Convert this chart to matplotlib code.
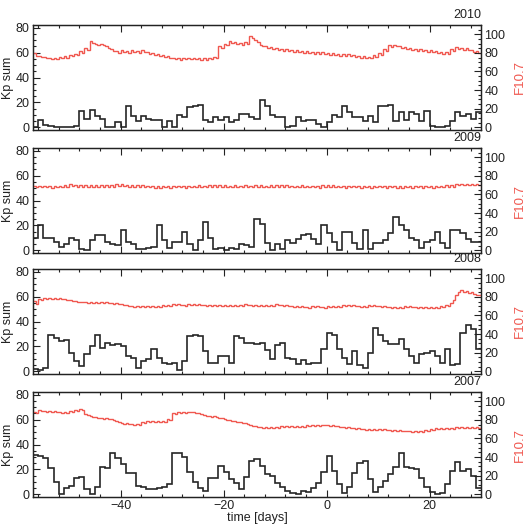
"""
Kp sum (preto) e F10.7 (vermelho) em torno do dia 0, um painel por ano.
Gera out.png com 531x524 px.
"""

import numpy as np
import matplotlib
matplotlib.use("Agg")  # sem janela
import matplotlib.pyplot as plt
from matplotlib.ticker import MultipleLocator

plt.rcParams["font.family"] = ["Liberation Sans", "DejaVu Sans"]

# ── Dados ────────────────────────────────────────────────────────────────────

anos = ["2010", "2009", "2008", "2007"]
dia_ini, dia_fim = -57, 30          # Kp: um valor por dia; F10.7: dois por dia

kp_2010 = [0, 6, 2, 1, 0, 0, 0, 0, 1, 13, 7, 14, 9, 7, 0, 0, 4, 0, 17, 9,
           5, 9, 7, 6, 6, 0, 5, 0, 10, 8, 16, 17, 18, 6, 4, 8, 6, 8, 4, 6,
           11, 11, 8, 7, 22, 17, 10, 8, 8, 0, 1, 8, 5, 6, 6, 3, 0, 4, 10, 8,
           17, 12, 8, 8, 5, 9, 4, 17, 17, 18, 5, 12, 6, 12, 11, 5, 13, 1, 0, 0,
           1, 5, 12, 9, 11, 7, 12]
kp_2009 = [10, 20, 10, 10, 7, 3, 5, 10, 8, 1, 0, 8, 12, 12, 7, 5, 4, 16, 7, 5,
           1, 1, 2, 3, 20, 8, 2, 7, 7, 15, 5, 0, 8, 23, 10, 1, 2, 0, 2, 1,
           5, 4, 3, 25, 21, 6, 0, 5, 1, 8, 6, 9, 12, 13, 9, 5, 20, 14, 7, 0,
           15, 15, 6, 1, 16, 1, 6, 6, 8, 14, 27, 20, 16, 10, 8, 2, 7, 8, 15, 6,
           2, 16, 16, 14, 9, 7, 7]
kp_2008 = [2, 1, 3, 29, 27, 24, 25, 15, 8, 4, 14, 20, 29, 19, 23, 21, 22, 20, 12, 11,
           3, 8, 10, 18, 11, 7, 6, 7, 1, 8, 28, 29, 28, 16, 7, 7, 12, 12, 7, 28,
           27, 23, 23, 22, 23, 17, 10, 21, 23, 11, 10, 6, 9, 6, 7, 7, 18, 31, 29, 18,
           11, 6, 16, 5, 3, 15, 35, 29, 24, 22, 22, 26, 18, 12, 7, 14, 15, 16, 12, 7,
           18, 5, 6, 31, 37, 34, 18]
kp_2007 = [32, 31, 29, 21, 10, 0, 5, 7, 13, 14, 4, 0, 6, 22, 21, 33, 29, 24, 17, 17,
           7, 6, 4, 4, 5, 6, 8, 33, 33, 30, 18, 10, 5, 3, 13, 13, 23, 18, 12, 9,
           4, 14, 27, 28, 23, 16, 15, 9, 6, 3, 1, 0, 3, 2, 5, 9, 18, 31, 19, 8,
           1, 6, 17, 25, 27, 12, 2, 6, 11, 16, 22, 33, 22, 21, 20, 13, 6, 2, 0, 1,
           8, 19, 26, 19, 20, 15, 5]

f107_2010 = [80, 77, 77, 75.5, 76, 74.5, 74.5, 73, 75, 73.5,
             76, 74.5, 76.5, 75, 78, 76.5, 79, 77.5, 82, 80,
             85, 83, 93, 91, 90, 88, 90, 88, 87, 85,
             84, 82, 82, 80, 83, 81, 82, 80, 83, 81,
             82, 80, 83, 81, 81, 79, 80, 78, 79, 77,
             78, 76, 77, 75, 75, 73, 74, 72, 75, 73,
             75, 73, 75, 73, 74.5, 72.5, 74.5, 72.5, 75, 73,
             76, 74, 87, 85, 90, 88, 93, 91, 92, 90,
             91, 89, 92, 90, 98, 96, 94, 92, 89, 87,
             87, 85, 86, 84, 85, 83, 84, 82, 84, 82,
             83, 81, 83, 81, 82, 80, 82, 80, 81, 79,
             81, 79, 81, 79, 80, 78, 80, 78, 79, 77,
             79, 77, 79, 77, 78, 76, 77, 75, 77, 75,
             76, 74, 78, 76, 80, 78, 84, 82, 88, 86,
             89, 87, 87, 85, 86, 84, 85, 83, 84, 82,
             84, 82, 83, 81, 83, 81, 82, 80, 81, 79,
             81, 79, 84, 82, 86, 84, 85, 83, 85, 83,
             83, 81, 82, 80]
f107_2009 = [69.5, 67.5, 69.5, 67.5, 69.5, 67.5, 69, 67, 69.5, 67.5,
             69.5, 67.5, 70, 68, 71, 69, 70.5, 68.5, 70, 68,
             70, 68, 70.5, 68.5, 70, 68, 70.5, 68.5, 70, 68,
             70.5, 68.5, 71, 69, 71, 69, 70.5, 68.5, 70.5, 68.5,
             70, 68, 70, 68, 69.5, 67.5, 69.5, 67, 69, 67,
             69.5, 67.5, 69, 67, 69.5, 67.5, 69.5, 67.5, 69, 67,
             69.5, 67.5, 69.5, 67.5, 70, 68, 69.5, 67.5, 70, 68,
             70, 68, 70.5, 68.5, 70, 68, 69.5, 67.5, 70, 68,
             69.5, 67.5, 70, 68, 69.5, 67.5, 70, 68, 70, 68,
             69.5, 67.5, 70, 68, 70.5, 68.5, 70, 68, 70, 68,
             69.5, 67.5, 69.5, 67.5, 70, 68, 69.5, 67.5, 69.5, 67.5,
             69, 67, 70, 68, 70, 68, 70, 68, 69.5, 67.5,
             69, 67, 69.5, 67.5, 69.5, 67.5, 69, 67, 69.5, 67.5,
             69, 67, 69.5, 67.5, 69.5, 67.5, 69, 67, 69.5, 67.5,
             69, 67, 69, 66.5, 69.5, 67.5, 69, 67, 69.5, 67.5,
             69, 67, 69.5, 67.5, 69, 67, 69.5, 67.5, 69.5, 67.5,
             70, 68, 70, 68, 71, 70, 71.5, 70.5, 71, 70,
             71, 70, 71, 70]
f107_2008 = [76, 72.5, 78, 77, 78.5, 77.5, 78.5, 77.5, 79, 78,
             78.5, 77.5, 78, 77, 77, 76, 75.5, 74.5, 75, 74,
             74.5, 73.5, 74.5, 73.5, 74.5, 73.5, 74.5, 73.5, 74, 73,
             73.5, 72.5, 73, 72, 72, 71, 71, 70, 70.5, 69.5,
             70.5, 69.5, 70.5, 69.5, 70.5, 69.5, 70.5, 69.5, 70.5, 69.5,
             71, 70, 71, 70, 72, 71, 72, 71, 71.5, 70.5,
             72, 71, 72, 71, 72, 71, 71.5, 70.5, 71, 70,
             71, 70, 71, 70, 71, 70, 71.5, 70.5, 71.5, 70.5,
             71.5, 70.5, 72, 71, 71.5, 70.5, 71, 70, 71, 70,
             71, 70, 71.5, 70.5, 72, 71, 71.5, 70.5, 71, 70,
             70.5, 69.5, 70, 69, 70, 69, 69.5, 68.5, 70, 69,
             70, 69, 69.5, 68.5, 70, 69, 70, 69, 70.5, 69.5,
             71, 70, 71, 70, 71, 70, 70.5, 69.5, 70.5, 69.5,
             71, 70, 71, 70, 70.5, 69.5, 70, 69, 69.5, 68.5,
             69, 67.5, 69.5, 68.5, 70, 69, 70, 69, 69.5, 68.5,
             69, 68, 69.5, 68.5, 69.5, 68.5, 69.5, 68.5, 70, 69,
             71, 70.5, 73, 77, 82, 85, 87, 85, 86, 84.5,
             85, 83.5, 82.5, 82]
f107_2007 = [88.5, 87.5, 90.5, 89.5, 90, 89, 89.5, 88.5, 89.5, 88.5,
             88.5, 87.5, 88, 87, 89.5, 88.5, 91, 90, 91.5, 90.5,
             86, 85, 84.5, 83.5, 83.5, 82.5, 82, 81, 81.5, 80.5,
             80.5, 79.5, 79, 78, 77, 76, 76.5, 75.5, 75.5, 74.5,
             76, 75, 77.5, 76.5, 78.5, 77.5, 78.5, 77.5, 79, 78,
             79, 78, 80.5, 79.5, 87.5, 86.5, 88.5, 87.5, 88, 87,
             89, 88, 88.5, 87.5, 87, 86, 85.5, 84.5, 84.5, 83.5,
             84, 83, 82.5, 81.5, 81, 80, 80, 79, 79, 78,
             77.5, 76.5, 76.5, 75.5, 74.5, 73.5, 73, 72, 72, 71,
             72, 71, 72.5, 71.5, 72.5, 71.5, 73, 72, 73, 72,
             73.5, 72.5, 73.5, 72.5, 73.5, 72.5, 74, 73, 74, 73,
             74.5, 73.5, 75, 74, 74.5, 73.5, 74, 73, 73.5, 72.5,
             72.5, 71.5, 72, 71, 71.5, 70.5, 71, 70, 70.5, 69.5,
             70.5, 69.5, 70.5, 69.5, 70.5, 69.5, 70, 69, 69.5, 68.5,
             69.5, 68.5, 69, 68, 68.5, 67.5, 68, 67, 67.5, 66.5,
             68, 67, 69, 68, 70.5, 69.5, 71, 70, 71.5, 70.5,
             71.5, 70.5, 71.5, 70.5, 72, 71, 72, 71, 72, 71,
             72.5, 71.5, 72, 71]

KP = {"2010": kp_2010, "2009": kp_2009, "2008": kp_2008, "2007": kp_2007}
F107 = {"2010": f107_2010, "2009": f107_2009, "2008": f107_2008, "2007": f107_2007}

# bordas dos degraus
bordas_kp = np.arange(dia_ini, dia_fim + 1)
bordas_f = np.arange(dia_ini, dia_fim + 0.25, 0.5)

VERMELHO = "#f0574f"
PRETO = "#262626"
CINZA = "#222222"

# ── Figura ───────────────────────────────────────────────────────────────────

W, H = 531, 524
fig = plt.figure(figsize=(W / 100, H / 100), dpi=100)

topos = [25, 148, 269, 392]      # topo de cada painel em px
alt = 105
esq, dir_ = 33, 481


def estilo_ticks(eixo):
    eixo.tick_params(which="both", direction="in", labelsize=9, width=0.8,
                     colors=CINZA)
    eixo.tick_params(which="major", length=5, pad=2.5)
    eixo.tick_params(which="minor", length=2.5)


for i, ano in enumerate(anos):
    y0 = 1 - (topos[i] + alt) / H
    ax = fig.add_axes([esq / W, y0, (dir_ - esq) / W, alt / H])
    ax2 = ax.twinx()

    ax.stairs(KP[ano], bordas_kp, color=PRETO, linewidth=1.2, baseline=None)
    ax2.stairs(F107[ano], bordas_f, color=VERMELHO, linewidth=1.0, baseline=None)

    ax.set_xlim(dia_ini, dia_fim)
    ax.set_ylim(-2.2, 82.3)
    ax2.set_ylim(-3, 110)

    ax.xaxis.set_major_locator(MultipleLocator(20))
    ax.xaxis.set_minor_locator(MultipleLocator(4))
    ax.yaxis.set_major_locator(MultipleLocator(20))
    ax.yaxis.set_minor_locator(MultipleLocator(5))
    ax2.yaxis.set_minor_locator(MultipleLocator(5))
    ax2.set_yticks([0, 20, 40, 60, 80, 100])

    estilo_ticks(ax)
    estilo_ticks(ax2)
    ax.tick_params(which="both", top=True, right=False)
    ax.tick_params(axis="x", which="major", pad=2)

    for eixo in (ax, ax2):
        for sp in eixo.spines.values():
            sp.set_linewidth(0.9)
            sp.set_color(CINZA)

    if i < len(anos) - 1:
        ax.tick_params(axis="x", labelbottom=False)

    ax.text(1.0, 1.035, ano, transform=ax.transAxes, ha="right", va="bottom",
            fontsize=9, color=CINZA)

    yc = 1 - (topos[i] + alt / 2) / H
    fig.text(8 / W, yc, "Kp sum", rotation=90, ha="center", va="center",
             fontsize=9, color=CINZA)
    fig.text(520 / W, yc, "F10.7", rotation=90, ha="center", va="center",
             fontsize=9.5, color=VERMELHO)

# rótulo do eixo x, posto à mão para não ser cortado na borda
fig.text((esq + dir_) / 2 / W, 1 - 523.5 / H, "time [days]", ha="center",
         va="bottom", fontsize=9, color=CINZA)

fig.savefig("out.png", dpi=100)
plt.close(fig)
